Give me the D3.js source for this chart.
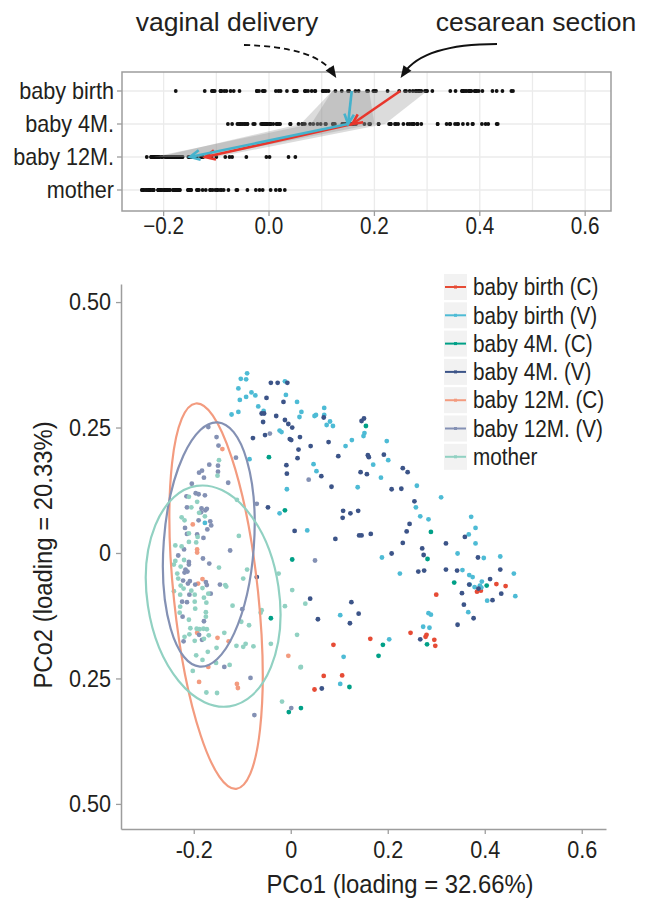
<!DOCTYPE html>
<html>
<head>
<meta charset="utf-8">
<script src="https://cdn.jsdelivr.net/npm/d3@7"></script>
<style>
body { margin: 0; background: #fff; }
text { font-family: "Liberation Sans Narrow", "Arial Narrow", "Liberation Sans", sans-serif; fill: #231f20; }
</style>
</head>
<body>
<script>
// group labels and colours
var groups = ["baby birth (C)", "baby birth (V)", "baby 4M. (C)", "baby 4M. (V)", "baby 12M. (C)", "baby 12M. (V)", "mother"];
var groupColors = ["#E64B35", "#4DBBD5", "#00A087", "#3C5488", "#F39B7F", "#8491B4", "#91D1C2"];

// PCo1 / PCo2 coordinates
var birthC = [[0.300,-0.083],[0.384,-0.077],[0.392,-0.075],[0.424,-0.062],[0.443,-0.066],[0.247,-0.159],[0.278,-0.167],[0.280,-0.163],[0.296,-0.173],[0.298,-0.185],[0.164,-0.171],[0.088,-0.183],[0.068,-0.245],[0.106,-0.244],[0.049,-0.272]];
var birthV = [[-0.090,0.358],[-0.103,0.347],[-0.092,0.346],[-0.108,0.328],[-0.081,0.320],[-0.073,0.314],[-0.105,0.305],[-0.092,0.311],[-0.067,0.292],[-0.056,0.283],[-0.108,0.281],[-0.122,0.276],[-0.010,0.315],[-0.012,0.342],[0.013,0.301],[0.022,0.281],[0.018,0.271],[-0.023,0.244],[-0.019,0.241],[-0.085,0.187],[-0.008,0.127],[-0.023,0.079],[-0.177,0.060],
  [0.069,0.289],[0.069,0.275],[0.049,0.273],[0.052,0.275],[0.074,0.255],[0.081,0.262],[0.087,0.253],[0.152,0.239],[0.150,0.233],[0.126,0.225],[0.113,0.213],[0.198,0.223],[0.201,0.185],[0.170,0.176],[0.047,0.177],[0.053,0.163],[0.186,0.150],[0.138,0.131],[0.260,0.134],[0.310,0.111],[0.258,0.091],[0.267,0.073],[0.284,0.067],[0.372,0.072],[0.381,0.050],[0.034,0.045],[0.367,0.037],
  [0.381,0.019],[0.344,-0.001],[0.398,-0.010],[0.432,-0.007],[0.188,-0.009],[0.225,-0.041],[0.354,-0.034],[0.368,-0.044],[0.375,-0.048],[0.369,-0.063],[0.379,-0.068],[0.390,-0.065],[0.394,-0.057],[0.393,-0.069],[0.460,-0.041],[0.463,-0.086],[0.405,-0.095],[0.366,-0.118],[0.284,-0.120],[0.289,-0.123],[0.273,-0.147],[0.286,-0.149],[0.102,-0.124],[0.203,-0.172],[0.109,-0.207],[0.102,-0.261]];
var m4C = [[-0.045,0.191],[-0.012,0.085],[0.155,0.253],[0.289,0.042],[0.003,-0.013],[-0.041,-0.130],[-0.004,-0.317],[0.021,-0.309],[0.282,-0.012],[0.337,-0.059],[0.404,-0.065],[0.190,-0.183],[0.281,-0.182],[0.181,-0.205],[0.121,-0.267]];
var m4V = [[-0.041,0.339],[-0.027,0.339],[-0.007,0.339],[-0.050,0.309],[-0.015,0.301],[-0.060,0.278],[-0.055,0.278],[-0.030,0.273],[-0.057,0.261],[-0.012,0.265],[-0.005,0.257],[0.003,0.250],[-0.053,0.235],[-0.078,0.229],[-0.002,0.227],[0.001,0.225],[0.019,0.231],[0.016,0.206],[0.014,0.189],[-0.009,0.175],[-0.008,0.158],[-0.047,0.091],[0.008,0.044],
  [0.068,0.270],[0.146,0.263],[0.151,0.268],[0.041,0.213],[0.078,0.221],[0.098,0.193],[0.159,0.195],[0.161,0.191],[0.192,0.196],[0.144,0.161],[0.157,0.157],[0.231,0.169],[0.241,0.161],[0.063,0.153],[0.084,0.132],[0.208,0.127],[0.228,0.128],[0.108,0.084],[0.107,0.070],[0.123,0.079],[0.139,0.084],[0.255,0.103],[0.245,0.058],[0.239,0.043],
  [0.092,0.028],[0.141,0.035],[0.146,0.035],[0.165,0.038],[0.231,0.020],[0.271,0.009],[0.274,-0.004],[0.208,-0.001],[0.320,0.019],[0.359,0.032],[0.386,-0.009],[0.263,-0.037],[0.275,-0.035],[0.320,-0.033],[0.343,-0.035],[0.432,-0.033],[0.411,-0.052],[0.368,-0.063],[0.387,-0.071],[0.353,-0.080],[0.434,-0.081],[0.416,-0.094],[0.357,-0.103],[0.377,-0.130],[0.344,-0.143],[0.040,-0.091],[0.125,-0.098],[0.140,-0.121],[0.122,-0.140],[0.056,-0.132],[0.267,-0.172],[0.064,-0.270],[-0.070,-0.048]];
var m12C = [[-0.141,0.207],[-0.202,0.057],[-0.193,0.007],[-0.193,0.001],[-0.191,-0.061],[-0.182,-0.052],[-0.193,-0.159],[-0.151,-0.169],[-0.128,-0.176],[-0.170,-0.227],[-0.189,-0.257],[-0.111,-0.261],[-0.109,-0.269],[-0.005,-0.205]];
var m12V = [[-0.153,0.231],[-0.149,0.214],[-0.113,0.190],[-0.150,0.174],[-0.150,0.162],[-0.168,0.176],[-0.189,0.160],[-0.183,0.164],[-0.179,0.150],[-0.204,0.138],[-0.129,0.140],[-0.196,0.119],[-0.190,0.117],[-0.177,0.115],[-0.215,0.113],[-0.214,0.091],[-0.184,0.089],[-0.176,0.085],[-0.173,0.088],[-0.185,0.081],[-0.190,0.065],[-0.166,0.063],[-0.164,0.055],[-0.172,0.047],[-0.218,0.050],[-0.070,0.098],[-0.170,0.251],[-0.043,0.238],
  [-0.214,0.038],[-0.193,0.037],[-0.180,0.030],[-0.220,0.007],[-0.232,-0.005],[-0.210,-0.018],[-0.210,-0.023],[-0.181,-0.011],[-0.168,-0.021],[-0.217,-0.033],[-0.213,-0.037],[-0.219,-0.039],[-0.125,0.005],[-0.222,-0.055],[-0.208,-0.056],[-0.212,-0.061],[-0.197,-0.063],[-0.175,-0.058],[-0.173,-0.064],[-0.146,-0.063],[-0.165,-0.081],[-0.209,-0.083],[-0.224,-0.097],[-0.214,-0.098],[-0.223,-0.127],[-0.179,-0.136],[-0.189,-0.163],[-0.183,-0.173],[-0.221,-0.176],[-0.100,-0.112],[-0.137,-0.227],[-0.083,-0.249],[-0.075,-0.323],[0.001,-0.309],[0.050,-0.015],[0.037,0.146]];
var mother = [[-0.148,0.185],[-0.151,0.154],[-0.210,0.112],[-0.193,0.102],[-0.205,0.091],[-0.189,0.080],[-0.177,0.073],[-0.225,0.071],[-0.219,0.065],[-0.111,0.106],[-0.210,0.039],
  [-0.238,0.015],[-0.225,0.013],[-0.238,-0.016],[-0.241,-0.023],[-0.220,-0.014],[-0.234,-0.041],[-0.227,-0.027],[-0.210,0.022],[-0.195,0.021],[-0.192,0.032],[-0.232,-0.051],[-0.227,-0.065],[-0.221,-0.071],[-0.205,-0.075],[-0.198,-0.083],[-0.241,-0.076],[-0.228,-0.083],[-0.182,-0.070],[-0.170,-0.081],[-0.174,-0.099],[-0.179,-0.089],[-0.198,-0.097],[-0.228,-0.107],[-0.229,-0.119],[-0.197,-0.111],[-0.210,-0.133],[-0.175,-0.118],[-0.175,-0.127],
  [-0.207,-0.150],[-0.194,-0.151],[-0.188,-0.152],[-0.180,-0.151],[-0.173,-0.152],[-0.219,-0.167],[-0.209,-0.162],[-0.198,-0.175],[-0.179,-0.171],[-0.169,-0.164],[-0.137,-0.159],[-0.148,-0.029],[-0.135,-0.064],[-0.133,-0.067],[-0.107,0.034],[-0.098,-0.051],[-0.090,-0.033],[-0.062,-0.119],[-0.060,-0.114],[-0.120,-0.105],[-0.102,-0.137],[-0.086,-0.144],[-0.112,-0.185],[-0.098,-0.187],[-0.093,-0.181],[-0.077,-0.186],[-0.041,-0.181],[-0.025,-0.041],[-0.012,-0.106],[0.003,-0.074],[0.013,-0.163],[0.021,-0.227],[-0.018,-0.296],
  [-0.153,-0.189],[-0.171,-0.197],[-0.195,-0.204],[-0.182,-0.213],[-0.154,-0.219],[-0.126,-0.223],[-0.202,-0.235],[-0.174,-0.278],[-0.152,-0.279],[0.030,-0.101],[0.020,-0.228]];
var groupPoints = [birthC, birthV, m4C, m4V, m12C, m12V, mother];

// 95% ellipses for 12M (C), 12M (V) and mother: centre, semi-axes, tilt (deg)
var ellipseGroups = [4, 5, 6];
var ellipseCentres = [[-0.154,-0.086],[-0.169,0.017],[-0.160,-0.086]];
var ellipseRadii = [[0.087,0.386],[0.093,0.244],[0.136,0.222]];
var ellipseTilt = [-6, 4.2, -8.5];

// top strip: rows, their groups, means and bands of the C / V trajectories
var rowNames = ["baby birth", "baby 4M.", "baby 12M.", "mother"];
var rowGroups = [[0,1],[2,3],[4,5],[6]];
var meansC = [0.249, 0.158, -0.121];
var meansV = [0.157, 0.150, -0.150];
var bandCLow = [0.12, 0.06, -0.21], bandCHigh = [0.30, 0.22, -0.10];
var bandVLow = [0.12, 0.08, -0.22], bandVHigh = [0.19, 0.20, -0.12];

var topTicks = [-0.2, 0.0, 0.2, 0.4, 0.6];
var topGrid = [-0.2, -0.1, 0, 0.1, 0.2, 0.3, 0.4, 0.5, 0.6];
var xTicks = [-0.2, 0, 0.2, 0.4, 0.6];
var yTicks = [0.5, 0.25, 0, -0.25, -0.5];

var width = 645, height = 899;
var axisGray = "#9d9d9d";

var svg = d3.select("body").append("svg")
    .attr("width", width)
    .attr("height", height);

// ---------- top strip ----------
var xTop = d3.scaleLinear().domain([-0.279, 0.649]).range([122, 611]);
var yTop = d3.scalePoint().domain(rowNames).range([91, 190]);
var strip = {left: 122, right: 611, top: 72, bottom: 211};

svg.append("g").selectAll("line")
    .data(topGrid).enter().append("line")
    .attr("x1", function(d) { return xTop(d); })
    .attr("x2", function(d) { return xTop(d); })
    .attr("y1", strip.top).attr("y2", strip.bottom)
    .attr("stroke", "#ebebeb").attr("stroke-width", 1.3);
svg.append("g").selectAll("line")
    .data(rowNames).enter().append("line")
    .attr("x1", strip.left).attr("x2", strip.right)
    .attr("y1", function(d) { return yTop(d); })
    .attr("y2", function(d) { return yTop(d); })
    .attr("stroke", "#ebebeb").attr("stroke-width", 1.3);

// black dots: PCo1 of every sample, one row per time point
rowNames.forEach(function(r, i) {
    var xs = [];
    rowGroups[i].forEach(function(g) {
        groupPoints[g].forEach(function(p) { xs.push(p[0]); });
    });
    svg.append("g").selectAll("circle")
        .data(xs).enter().append("circle")
        .attr("cx", function(d) { return xTop(d); })
        .attr("cy", yTop(r))
        .attr("r", 1.9)
        .attr("fill", "#111");
});

// grey bands
function band(lo, hi) {
    for (var i = 0; i < 2; i++) {
        var y1 = yTop(rowNames[i]), y2 = yTop(rowNames[i + 1]);
        var pts = [[xTop(lo[i]), y1], [xTop(hi[i]), y1], [xTop(hi[i + 1]), y2], [xTop(lo[i + 1]), y2]];
        svg.append("path")
            .attr("d", "M" + pts.join("L") + "Z")
            .attr("fill", "#8c8c8c")
            .attr("fill-opacity", 0.3);
    }
}
band(bandCLow, bandCHigh);
band(bandVLow, bandVHigh);

function arrow(x1, y1, x2, y2, color) {
    var ang = Math.atan2(y2 - y1, x2 - x1);
    var len = 11, spread = 0.45;
    svg.append("line")
        .attr("x1", x1).attr("y1", y1).attr("x2", x2).attr("y2", y2)
        .attr("stroke", color).attr("stroke-width", 2.6);
    svg.append("path")
        .attr("d", "M" + (x2 - len * Math.cos(ang - spread)) + "," + (y2 - len * Math.sin(ang - spread)) +
                   "L" + x2 + "," + y2 +
                   "L" + (x2 - len * Math.cos(ang + spread)) + "," + (y2 - len * Math.sin(ang + spread)))
        .attr("fill", "none").attr("stroke", color).attr("stroke-width", 2.6);
}
for (var i = 0; i < 2; i++) {
    arrow(xTop(meansC[i]), yTop(rowNames[i]), xTop(meansC[i + 1]), yTop(rowNames[i + 1]), "#e8362c");
}
for (var i = 0; i < 2; i++) {
    arrow(xTop(meansV[i]), yTop(rowNames[i]), xTop(meansV[i + 1]), yTop(rowNames[i + 1]), "#45b2cc");
}

svg.append("rect")
    .attr("x", strip.left).attr("y", strip.top)
    .attr("width", strip.right - strip.left).attr("height", strip.bottom - strip.top)
    .attr("fill", "none").attr("stroke", axisGray).attr("stroke-width", 1.5);

var gTopY = svg.append("g").selectAll("g").data(rowNames).enter().append("g");
gTopY.append("line")
    .attr("x1", strip.left - 5).attr("x2", strip.left)
    .attr("y1", function(d) { return yTop(d); }).attr("y2", function(d) { return yTop(d); })
    .attr("stroke", axisGray).attr("stroke-width", 1.3);
gTopY.append("text")
    .attr("x", strip.left - 8).attr("y", function(d) { return yTop(d); })
    .attr("dy", "0.35em").attr("text-anchor", "end")
    .style("font-size", "24px")
    .text(function(d) { return d; });

var gTopX = svg.append("g").selectAll("g").data(topTicks).enter().append("g");
gTopX.append("line")
    .attr("x1", function(d) { return xTop(d); }).attr("x2", function(d) { return xTop(d); })
    .attr("y1", strip.bottom).attr("y2", strip.bottom + 5)
    .attr("stroke", axisGray).attr("stroke-width", 1.3);
gTopX.append("text")
    .attr("x", function(d) { return xTop(d); }).attr("y", strip.bottom + 23)
    .attr("text-anchor", "middle")
    .style("font-size", "23px")
    .text(d3.format(".1f"));

// the original type is a condensed face: narrow every label a little
svg.selectAll("text").each(function() {
    var len = this.getComputedTextLength();
    d3.select(this).attr("textLength", len * 0.9).attr("lengthAdjust", "spacingAndGlyphs");
});

// annotations with curved arrows (left at natural width so they fit)
svg.append("text").attr("x", 227).attr("y", 31).attr("text-anchor", "middle")
    .style("font-size", "26.5px").text("vaginal delivery");
svg.append("text").attr("x", 536).attr("y", 31).attr("text-anchor", "middle")
    .style("font-size", "26.5px").text("cesarean section");

function curved(p0, c, p1, dashed) {
    var path = svg.append("path")
        .attr("d", "M" + p0 + "Q" + c + " " + p1)
        .attr("fill", "none").attr("stroke", "#111").attr("stroke-width", 1.8);
    if (dashed) path.attr("stroke-dasharray", "6,4");
    var ang = Math.atan2(p1[1] - c[1], p1[0] - c[0]);
    var len = 13, half = 0.38;
    var tip = [p1[0] + 6 * Math.cos(ang), p1[1] + 6 * Math.sin(ang)];
    svg.append("path")
        .attr("d", "M" + tip + "L" + [tip[0] - len * Math.cos(ang - half), tip[1] - len * Math.sin(ang - half)] +
                   "L" + [tip[0] - len * Math.cos(ang + half), tip[1] - len * Math.sin(ang + half)] + "Z")
        .attr("fill", "#111");
}
curved([244, 45], [316, 47], [333, 73], true);
curved([497, 44], [424, 44], [404, 73], false);

// ---------- PCoA scatter ----------
var x = d3.scaleLinear().domain([-0.35, 0.65]).range([121, 606]);
var y = d3.scaleLinear().domain([-0.55, 0.536]).range([829, 284]);

groupPoints.forEach(function(pts, g) {
    svg.append("g").selectAll("circle")
        .data(pts).enter().append("circle")
        .attr("cx", function(d) { return x(d[0]); })
        .attr("cy", function(d) { return y(d[1]); })
        .attr("r", 2.4)
        .attr("fill", groupColors[g]);
});

ellipseGroups.forEach(function(g, i) {
    var cx = x(ellipseCentres[i][0]), cy = y(ellipseCentres[i][1]);
    svg.append("ellipse")
        .attr("cx", cx).attr("cy", cy)
        .attr("rx", x(ellipseRadii[i][0]) - x(0))
        .attr("ry", y(0) - y(ellipseRadii[i][1]))
        .attr("transform", "rotate(" + ellipseTilt[i] + "," + cx + "," + cy + ")")
        .attr("fill", "none")
        .attr("stroke", groupColors[g])
        .attr("stroke-width", 2.2);
});

var xAxis = svg.append("g").attr("transform", "translate(0,829)")
    .call(d3.axisBottom(x).tickValues(xTicks).tickSize(5).tickSizeOuter(0)
        .tickFormat(function(d) { return d === 0 ? "0" : String(d); }));
var yAxis = svg.append("g").attr("transform", "translate(121,0)")
    .call(d3.axisLeft(y).tickValues(yTicks).tickSize(5).tickSizeOuter(0)
        .tickFormat(function(d) { return d === 0 ? "0" : d3.format(".2f")(Math.abs(d)); }));
[xAxis, yAxis].forEach(function(a) {
    a.attr("font-family", null).attr("font-size", null);
    a.select(".domain").attr("stroke", axisGray).attr("stroke-width", 1.5);
    a.selectAll(".tick line").attr("stroke", axisGray).attr("stroke-width", 1.3);
    a.selectAll(".tick text").style("font-size", "24px").attr("fill", "#231f20");
});
xAxis.selectAll(".tick text").attr("y", 12);
yAxis.selectAll(".tick text").attr("x", -10);

var titles = svg.append("g");
titles.append("text").attr("x", 400).attr("y", 893).attr("text-anchor", "middle")
    .style("font-size", "26.5px").text("PCo1 (loading = 32.66%)");
titles.append("text").attr("transform", "translate(52,555) rotate(-90)").attr("text-anchor", "middle")
    .style("font-size", "26.5px").text("PCo2 (loading = 20.33%)");

// legend
var legend = svg.append("g");
var leg = legend.selectAll("g").data(groups).enter().append("g")
    .attr("transform", function(d, i) { return "translate(444," + (274 + i * 28.3) + ")"; });
leg.append("rect").attr("width", 23).attr("height", 26).attr("fill", "#f2f2f2");
leg.append("line").attr("x1", 1).attr("x2", 22).attr("y1", 13).attr("y2", 13)
    .attr("stroke", function(d, i) { return groupColors[i]; }).attr("stroke-width", 2);
leg.append("rect").attr("x", 10).attr("y", 11.5).attr("width", 3).attr("height", 3)
    .attr("fill", function(d, i) { return groupColors[i]; });
leg.append("text").attr("x", 29).attr("y", 13).attr("dy", "0.36em")
    .style("font-size", "23px")
    .text(function(d) { return d; });

[xAxis, yAxis, titles, legend].forEach(function(g) {
    g.selectAll("text").each(function() {
        var len = this.getComputedTextLength();
        d3.select(this).attr("textLength", len * 0.9).attr("lengthAdjust", "spacingAndGlyphs");
    });
});
</script>
</body>
</html>
